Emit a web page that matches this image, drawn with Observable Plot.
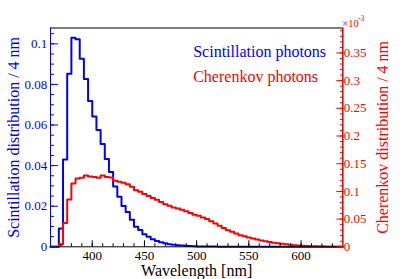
<!DOCTYPE html>
<html><head><meta charset="utf-8">
<script src="https://cdn.jsdelivr.net/npm/d3@7"></script>
<script src="https://cdn.jsdelivr.net/npm/@observablehq/plot@0.6"></script>
<style>html,body{margin:0;padding:0;background:#fff;} svg text{font-family:'Liberation Serif',serif;}</style>
</head><body><div id="chart"></div>
<script>
// Lower edges of the 4 nm wavelength bins (nm)
const binLow = [360,364,368,372,376,380,384,388,392,396,400,404,408,412,416,420,424,428,432,436,
  440,444,448,452,456,460,464,468,472,476,480,484,488,492,496,500,504,508,512,516,
  520,524,528,532,536,540,544,548,552,556,560,564,568,572,576,580,584,588,592,596,
  600,604,608,612,616,620,624,628,632,636];
const binHigh = 640;
// Scintillation distribution / 4 nm (left axis)
const scintillation = [0,0,0.009,0.043,0.0853,0.1030,0.1023,0.0927,0.0827,0.0718,0.0642,0.0575,0.0506,0.0433,0.0369,0.0297,0.0246,0.0201,0.0172,0.0133,
  0.0099,0.0083,0.0062,0.0049,0.0037,0.0028,0.0022,0.0017,0.0013,0.0010,0.0008,0.0006,0.0005,0.0004,0.0003,0.0002,0.0002,0.0001,0.0001,0.0001,
  0,0,0,0,0,0,0,0,0,0,0,0,0,0,0,0,0,0,0,0,
  0,0,0,0,0,0,0,0,0,0];
// Cherenkov distribution / 4 nm (right axis, units of 1e-3)
const cherenkov = [0,0,0.004,0.043,0.0855,0.1144,0.1234,0.1245,0.1285,0.1270,0.1260,0.1245,0.1285,0.1260,0.1250,0.1191,0.1173,0.1155,0.1131,0.1083,
  0.1023,0.0992,0.0951,0.0915,0.0880,0.0850,0.0810,0.0770,0.0740,0.0710,0.0690,0.0670,0.0640,0.0610,0.0580,0.0560,0.0530,0.0500,0.0460,0.0420,
  0.0380,0.0340,0.0300,0.0270,0.0240,0.0210,0.0190,0.0170,0.0150,0.0130,0.0115,0.0100,0.0085,0.0075,0.0065,0.0055,0.0045,0.0037,0.0030,0.0024,
  0.0019,0.0015,0.0011,0.0008,0.0006,0.0004,0.0003,0.0002,0.0001,0];
// Axis ranges and tick labels
const leftMax = 0.1078;
const rightMax = 0.395; // ×10^-3
const xTicks = [400,450,500,550,600];
const leftTicks = [0,0.02,0.04,0.06,0.08,0.1];
const rightTicks = [0,0.05,0.1,0.15,0.2,0.25,0.3,0.35];
const legendLabels = ["Scintillation photons","Cherenkov photons"];

const BLUE = "#0000ff", RED = "#ff0000";
const FONT = "'Liberation Serif', serif";
const k = leftMax / rightMax;
const edges = binLow.concat([binHigh]);
const blueLine = edges.map((x, i) => ({x, y: scintillation[Math.min(i, scintillation.length - 1)]}));
const redLine = edges.map((x, i) => ({x, y: cherenkov[Math.min(i, cherenkov.length - 1)] * k}));

const xMinor = d3.range(370, 640, 10);
const leftMinor = d3.range(0, 0.1076, 0.005);
const rightMinor = d3.range(0, 0.3951, 0.01).map(v => v * k);
const fmt = v => String(+v.toFixed(3));

const chart = Plot.plot({
  width: 407, height: 279,
  marginLeft: 50, marginRight: 64.7, marginTop: 27.5, marginBottom: 32.7,
  style: {fontFamily: FONT, background: "#fff", color: "#000"},
  x: {domain: [360, 640]},
  y: {domain: [0, leftMax]},
  marks: [
    Plot.line(blueLine, {x: "x", y: "y", curve: "step-after", stroke: BLUE, strokeWidth: 2}),
    Plot.line(redLine, {x: "x", y: "y", curve: "step-after", stroke: RED, strokeWidth: 2}),
    Plot.frame({stroke: "#000"}),
    Plot.ruleX([360], {stroke: BLUE}),
    Plot.ruleX([640], {stroke: RED}),
    // bottom axis
    Plot.axisX(xMinor, {anchor: "bottom", tickSize: 3, dy: -3, fill: "none", stroke: "#000", label: null}),
    Plot.axisX(xTicks, {anchor: "bottom", tickSize: 6, dy: -6, fill: "none", stroke: "#000", label: null}),
    Plot.axisX(xTicks, {anchor: "bottom", tickSize: 0, tickPadding: 3.5, fontSize: 13, fontFamily: FONT, fill: "#000", label: null, tickFormat: d => String(d)}),
    // left axis
    Plot.axisY(leftMinor, {anchor: "left", tickSize: 4, dx: 4, fill: "none", stroke: BLUE, label: null}),
    Plot.axisY(leftTicks, {anchor: "left", tickSize: 8, dx: 8, fill: "none", stroke: BLUE, label: null}),
    Plot.axisY(leftTicks, {anchor: "left", tickSize: 0, tickPadding: 3.3, fontSize: 13, fontFamily: FONT, fill: BLUE, label: null, tickFormat: fmt}),
    // right axis
    Plot.axisY(rightMinor, {anchor: "right", tickSize: 3.5, dx: -3.5, fill: "none", stroke: RED, label: null}),
    Plot.axisY(rightTicks.map(v => v * k), {anchor: "right", tickSize: 7, dx: -7, fill: "none", stroke: RED, label: null}),
    Plot.axisY(rightTicks.map(v => v * k), {anchor: "right", tickSize: 0, tickPadding: 1, fontSize: 13, fontFamily: FONT, fill: RED, label: null, tickFormat: d => fmt(d / k)}),
    // exponent
    Plot.text(["×10"], {frameAnchor: "top-right", dx: -0.5, dy: -0.8, lineAnchor: "bottom", textAnchor: "start", fill: RED, fontSize: 10.5}),
    Plot.text(["-3"], {frameAnchor: "top-right", dx: 15.5, dy: -6.8, lineAnchor: "bottom", textAnchor: "start", fill: RED, fontSize: 7.5}),
    // axis titles
    Plot.text(["Scintillation distribution / 4 nm"], {frameAnchor: "left", rotate: -90, dx: -31.7, lineAnchor: "bottom", textAnchor: "middle", fill: BLUE, fontSize: 16}),
    Plot.text(["Cherenkov distribution / 4 nm"], {frameAnchor: "right", rotate: -90, dx: 45, lineAnchor: "bottom", textAnchor: "middle", fill: RED, fontSize: 16}),
    Plot.text(["Wavelength [nm]"], {frameAnchor: "bottom", dy: 28.7, lineAnchor: "bottom", textAnchor: "middle", fill: "#000", fontSize: 16}),
    // legend
    Plot.text([legendLabels[0]], {frameAnchor: "top-left", dx: 142.7, dy: 28.5, lineAnchor: "bottom", textAnchor: "start", fill: BLUE, fontSize: 16}),
    Plot.text([legendLabels[1]], {frameAnchor: "top-left", dx: 142.7, dy: 54, lineAnchor: "bottom", textAnchor: "start", fill: RED, fontSize: 16})
  ]
});
document.getElementById("chart").appendChild(chart);
</script>
</body></html>
